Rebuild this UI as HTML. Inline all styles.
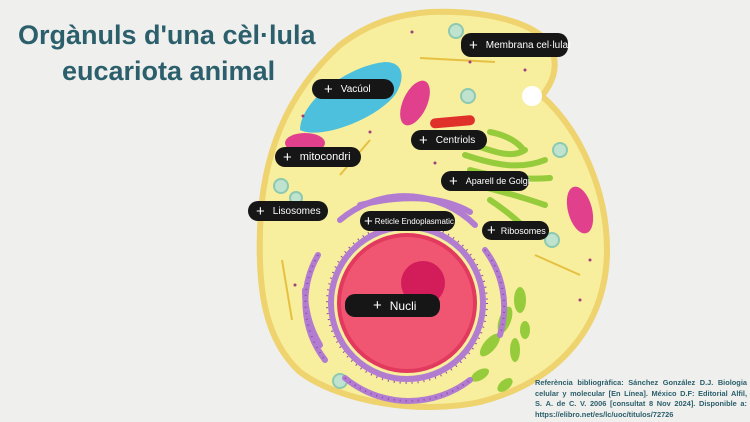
<!DOCTYPE html>
<html><head><meta charset="utf-8"><style>
html,body{margin:0;padding:0;}
body{width:750px;height:422px;overflow:hidden;background:#efefed;font-family:"Liberation Sans",sans-serif;position:relative;}
.t{position:absolute;color:#2b5f6b;font-weight:bold;font-size:27px;white-space:nowrap;}
.p{position:absolute;background:#161616;color:#fff;border-radius:10px;font-size:10px;display:flex;align-items:center;white-space:nowrap;box-sizing:border-box;padding-left:8px;}
.p b{font-weight:normal;font-size:15px;margin-right:8px;}
.ref{position:absolute;left:535px;top:378px;width:212px;font-size:7.4px;font-weight:bold;color:#2b5f6b;line-height:10.5px;text-align:justify;}
</style></head><body>
<svg width="750" height="422" style="position:absolute;left:0;top:0">
<path d="M430,12 C485,10 535,22 550,45 C562,70 548,88 542,96 C580,130 607,190 607,250 C607,320 565,380 480,402 C420,415 340,402 300,372 C265,340 258,290 260,230 C262,150 290,90 340,45 C370,22 400,14 430,12 Z" fill="#f7ee9e" stroke="#eed36e" stroke-width="6"/>
<circle cx="532" cy="96" r="10" fill="#fff"/>
<path d="M300,130 C300,100 350,65 385,62 C405,62 405,80 395,95 C375,120 320,140 300,130 Z" fill="#4cc0dc"/>
<ellipse cx="415" cy="103" rx="12" ry="24" transform="rotate(25 415 103)" fill="#e0408c"/>
<ellipse cx="305" cy="143" rx="20" ry="10" fill="#e0408c"/>
<ellipse cx="580" cy="210" rx="12" ry="24" transform="rotate(-15 580 210)" fill="#e0408c"/>
<rect x="430" y="117" width="45" height="10" rx="5" transform="rotate(-5 450 122)" fill="#e0302a"/>
<g fill="none" stroke="#96cc3c" stroke-width="6" stroke-linecap="round">
<path d="M460,140 C490,150 510,160 525,150"/><path d="M465,155 C495,165 520,170 545,160"/><path d="M470,170 C500,178 525,180 550,178"/><path d="M475,185 C505,192 525,198 545,205"/><path d="M490,200 C505,210 515,218 525,228"/><path d="M490,132 C505,135 515,140 522,148"/></g>
<g fill="#96cc3c"><ellipse cx="520" cy="300" rx="6" ry="13"/><ellipse cx="505" cy="320" rx="6" ry="14" transform="rotate(20 505 320)"/><ellipse cx="490" cy="345" rx="6" ry="14" transform="rotate(40 490 345)"/><ellipse cx="515" cy="350" rx="5" ry="12"/><ellipse cx="480" cy="375" rx="5" ry="10" transform="rotate(60 480 375)"/><ellipse cx="525" cy="330" rx="5" ry="9"/><ellipse cx="505" cy="385" rx="5" ry="9" transform="rotate(50 505 385)"/></g>
<g fill="#bfe3cf" stroke="#8cc9b0" stroke-width="2"><circle cx="456" cy="31" r="7"/><circle cx="468" cy="96" r="7"/><circle cx="281" cy="186" r="7"/><circle cx="552" cy="240" r="7"/><circle cx="340" cy="381" r="7"/><circle cx="560" cy="150" r="7"/><circle cx="296" cy="198" r="6"/></g>
<g stroke="#e6c040" stroke-width="2" fill="none"><line x1="420" y1="58" x2="495" y2="62"/><line x1="535" y1="255" x2="580" y2="275"/><line x1="282" y1="260" x2="292" y2="320"/><line x1="340" y1="175" x2="370" y2="140"/></g>
<g fill="none" stroke="#b27dd0" stroke-width="6" stroke-linecap="round">
<circle cx="407" cy="303" r="76"/><path d="M318,255 A95,95 0 0 0 325,360"/><path d="M305,290 A105,105 0 0 0 320,345"/><path d="M485,250 A95,95 0 0 1 500,335"/><path d="M345,378 A100,100 0 0 0 470,380"/><path d="M340,220 A100,100 0 0 1 475,225"/><path d="M360,205 C400,195 440,195 470,212"/></g>
<g fill="none" stroke="#8f4aa8" stroke-width="2" stroke-dasharray="1 5"><circle cx="407" cy="303" r="80"/><path d="M318,255 A95,95 0 0 0 325,360"/><path d="M485,250 A95,95 0 0 1 500,335"/><path d="M345,378 A100,100 0 0 0 470,380"/></g>
<circle cx="407" cy="303" r="68" fill="#f05672" stroke="#e23a5e" stroke-width="4"/>
<circle cx="423" cy="283" r="22" fill="#d31d5a"/>
<g fill="#a0407a"><circle cx="412" cy="32" r="1.5"/><circle cx="470" cy="62" r="1.5"/><circle cx="525" cy="70" r="1.5"/><circle cx="303" cy="116" r="1.5"/><circle cx="295" cy="285" r="1.5"/><circle cx="590" cy="260" r="1.5"/><circle cx="580" cy="300" r="1.5"/><circle cx="370" cy="132" r="1.5"/><circle cx="435" cy="163" r="1.5"/></g>
</svg>
<div class="t" style="left:18px;top:20px">Orgànuls d'una cèl·lula</div>
<div class="t" style="left:62px;top:56px">eucariota animal</div>
<div class="p" style="left:461px;top:33px;width:107px;height:24px"><b>+</b>Membrana cel·lular</div>
<div class="p" style="left:312px;top:79px;width:82px;height:20px;padding-left:12px"><b>+</b>Vacúol</div>
<div class="p" style="left:411px;top:130px;width:76px;height:20px"><b>+</b>Centriols</div>
<div class="p" style="left:275px;top:147px;width:86px;height:20px;font-size:11px"><b>+</b>mitocondri</div>
<div class="p" style="left:441px;top:171px;width:88px;height:20px;font-size:9px"><b>+</b>Aparell de Golgi</div>
<div class="p" style="left:248px;top:201px;width:80px;height:20px"><b>+</b>Lisosomes</div>
<div class="p" style="left:360px;top:211px;width:95px;height:20px;font-size:8px;padding-left:4px"><b style="margin-right:2px">+</b>Reticle Endoplasmatic</div>
<div class="p" style="left:482px;top:221px;width:67px;height:19px;font-size:9px;padding-left:5px"><b style="margin-right:5px">+</b>Ribosomes</div>
<div class="p" style="left:345px;top:294px;width:95px;height:23px;font-size:12px;padding-left:28px"><b>+</b>Nucli</div>
<div class="ref">Referència bibliogràfica: Sánchez González D.J. Biologia celular y molecular [En Línea]. México D.F: Editorial Alfil, S.&nbsp;A. de C. V. 2006 [consultat 8 Nov 2024]. Disponible a: https://elibro.net/es/lc/uoc/titulos/72726</div>
</body></html>
